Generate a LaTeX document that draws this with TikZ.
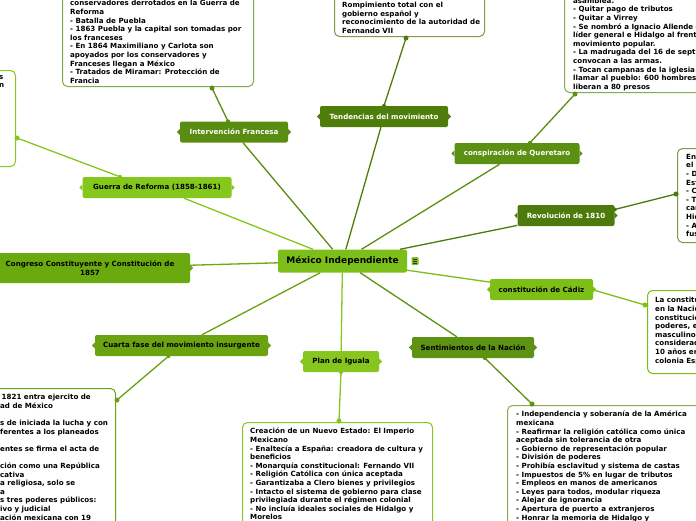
\documentclass[tikz,border=0pt]{standalone}
\usepackage{fontspec}
\setmainfont{DejaVu Sans}
\usetikzlibrary{calc}
\definecolor{cCenter}{HTML}{7DBF1A}
\definecolor{cTend}{HTML}{4F7D0C}
\definecolor{cInter}{HTML}{5B8C12}
\definecolor{cConsp}{HTML}{5C9012}
\definecolor{cRevo}{HTML}{4C7B0B}
\definecolor{cGuerra}{HTML}{84C81B}
\definecolor{cCongr}{HTML}{6BAA0F}
\definecolor{cCadiz}{HTML}{7DBF17}
\definecolor{cCuarta}{HTML}{6AA30F}
\definecolor{cPlan}{HTML}{86C61F}
\definecolor{cSent}{HTML}{5E9212}
\newcommand{\sidetabs}[2]{%
  \fill[#2] ($(#1.west)+(0,-3)$) -- ($(#1.west)+(-3,0)$) -- ($(#1.west)+(0,3)$) -- cycle;
  \fill[#2] ($(#1.east)+(0,-3)$) -- ($(#1.east)+(3,0)$) -- ($(#1.east)+(0,3)$) -- cycle;}
\begin{document}
\begin{tikzpicture}[x=1pt,y=-1pt,
  txt/.style={font=\fontsize{7.1}{8.6}\selectfont\bfseries},
  topic/.style={txt, rounded corners=2pt, inner sep=0pt, minimum height=21pt, align=center},
  notebox/.style={draw, fill=white, line width=1pt, rounded corners=5pt, inner sep=0pt},
  notetext/.style={txt, align=left, inner sep=0pt},
  link/.style={line width=1.3pt},
  enddot/.style={circle, inner sep=0pt, minimum size=5pt},
  startdot/.style={circle, inner sep=0pt, minimum size=4pt}]
\useasboundingbox (0,0) rectangle (696,520);
\fill[white] (0,0) rectangle (696,520);
\clip (0,0) rectangle (696,520);

% ---- topic nodes
\node[topic, fill=cCenter, minimum width=129pt, minimum height=23pt, font=\fontsize{9}{10}\selectfont\bfseries] (center) at (342.5,261) {México Independiente};
\node[topic, fill=cTend, text=white, minimum width=128pt] (tend) at (384,116.5) {Tendencias del movimiento};
\node[topic, fill=cInter, text=white, minimum width=108pt] (inter) at (234,132) {Intervención Francesa};
\node[topic, fill=cConsp, text=white, minimum width=125pt] (consp) at (517,153.5) {conspiración de Queretaro};
\node[topic, fill=cRevo, text=white, minimum width=97pt] (revo) at (566,215.5) {Revolución de 1810};
\node[topic, fill=cGuerra, minimum width=149pt] (guerra) at (157,187.5) {Guerra de Reforma (1858-1861)};
\node[topic, fill=cCongr, minimum width=200pt, minimum height=30pt] (congr) at (90,268) {Congreso Constituyente y Constitución de\\1857};
\node[topic, fill=cCadiz, minimum width=103pt] (cadiz) at (541.5,289.5) {constitución de Cádiz};
\node[topic, fill=cCuarta, minimum width=173pt] (cuarta) at (181.5,345.5) {Cuarta fase del movimiento insurgente};
\node[topic, fill=cPlan, minimum width=76pt] (plan) at (341,361.5) {Plan de Iguala};
\node[topic, fill=cSent, minimum width=122pt] (sent) at (473,347.5) {Sentimientos de la Nación};

\sidetabs{tend}{cTend}
\sidetabs{inter}{cInter}
\sidetabs{consp}{cConsp}
\sidetabs{revo}{cRevo}
\sidetabs{guerra}{cGuerra}
\sidetabs{congr}{cCongr}
\sidetabs{cadiz}{cCadiz}
\sidetabs{cuarta}{cCuarta}
\sidetabs{plan}{cPlan}
\sidetabs{sent}{cSent}

% icon next to the central node
\node[fill=cCenter, rounded corners=1pt, minimum width=7pt, minimum height=8pt, inner sep=0pt] (icon) at (415,261) {};
\draw[line width=0.6pt, black!80] ($(icon.center)+(-2,-2)$) -- ($(icon.center)+(2,-2)$)
  ($(icon.center)+(-2,0)$) -- ($(icon.center)+(2,0)$)
  ($(icon.center)+(-2,2)$) -- ($(icon.center)+(2,2)$);

% ---- connectors from the center
\draw[link, cTend] (center) -- (tend);
\draw[link, cInter] (center) -- (inter);
\draw[link, cConsp] (center) -- (consp);
\draw[link, cRevo] (center) -- (revo);
\draw[link, cGuerra] (center) -- (guerra);
\draw[link, cCongr] (center) -- (congr);
\draw[link, cCadiz] (center) -- (cadiz);
\draw[link, cCuarta] (center) -- (cuarta);
\draw[link, cPlan] (center) -- (plan);
\draw[link, cSent] (center) -- (sent);

% ---- note boxes
\node[notebox, draw=cInter!75!white, minimum width=191pt, minimum height=120pt, anchor=south west] (boxIF) at (62,87) {};
\node[notetext, anchor=south west] (tIF) at (70,83.5) {conservadores derrotados en la Guerra de\\Reforma\\- Batalla de Puebla\\- 1863 Puebla y la capital son tomadas por\\los franceses\\- En 1864 Maximiliano y Carlota son\\apoyados por los conservadores y\\Franceses llegan a México\\- Tratados de Miramar: Protección de\\Francia};

\node[notebox, draw=cGuerra, minimum width=40pt, minimum height=96pt, anchor=north east] (boxGR) at (16,70) {};
\node[notetext, anchor=north west] (tGR) at (-1,75) {s\\n};

\node[notebox, draw=cTend!75!white, minimum width=150pt, minimum height=60pt, anchor=south west] (boxT) at (334,37) {};
\node[notetext, anchor=south west] (tT) at (342,33.5) {Rompimiento total con el\\gobierno español y\\reconocimiento de la autoridad de\\Fernando VII};

\node[notebox, draw=cConsp!75!white, minimum width=200pt, minimum height=120pt, anchor=south west] (boxC) at (564,93) {};
\node[notetext, anchor=south west] (tC) at (573,91) {asamblea.\\- Quitar pago de tributos\\- Quitar a Virrey\\- Se nombró a Ignacio Allende como\\líder general e Hidalgo al frente del\\movimiento popular.\\- La madrugada del 16 de septiembre\\convocan a las armas.\\- Tocan campanas de la iglesia para\\llamar al pueblo: 600 hombres y\\liberan a 80 presos};

\node[notebox, draw=cRevo!75!white, minimum width=100pt, minimum height=94pt, anchor=north west] (boxR) at (677,148) {};
\node[notetext, anchor=north west] (tR) at (686,154) {En\\el p\\- D\\Est\\- C\\- T\\car\\Hid\\- A\\fus};

\node[notebox, draw=cCadiz, minimum width=100pt, minimum height=83pt, anchor=north west] (boxCa) at (647,290) {};
\node[notetext, anchor=north west] (tCa) at (655,297) {La constitución\\en la Nación\\constitucional\\poderes, el\\masculino,\\considerados\\10 años en\\colonia Española};

\node[notebox, draw=cCuarta, minimum width=160pt, minimum height=160pt, anchor=north east] (boxCu) at (116,388) {};
\node[notetext, anchor=north west] (tCu) at (0,394) {\hspace{1.5pt}1821 entra ejercito de\\ad de México\\[8.6pt]s de iniciada la lucha y con\\ferentes a los planeados\\[8.6pt]entes se firma el acta de\\[8.6pt]ción como una República\\cativa\\a religiosa, solo se\\a\\s tres poderes públicos:\\ivo y judicial\\ación mexicana con 19};

\node[notebox, draw=cPlan, minimum width=190pt, minimum height=120pt, anchor=north west] (boxP) at (242,422) {};
\node[notetext, anchor=north west] (tP) at (250,428) {Creación de un Nuevo Estado: El Imperio\\Mexicano\\- Enaltecía a España: creadora de cultura y\\beneficios\\- Monarquía constitucional: Fernando VII\\- Religión Católica con única aceptada\\- Garantizaba a Clero bienes y privilegios\\- Intacto el sistema de gobierno para clase\\privilegiada durante el régimen colonial\\- No incluía ideales sociales de Hidalgo y\\Morelos};

\node[notebox, draw=cSent!75!white, minimum width=220pt, minimum height=140pt, anchor=north west] (boxS) at (507,405) {};
\node[notetext, anchor=north west] (tS) at (516,411) {- Independencia y soberanía de la América\\mexicana\\- Reafirmar la religión católica como única\\aceptada sin tolerancia de otra\\- Gobierno de representación popular\\- División de poderes\\- Prohibía esclavitud y sistema de castas\\- Impuestos de 5\% en lugar de tributos\\- Empleos en manos de americanos\\- Leyes para todos, modular riqueza\\- Alejar de ignorancia\\- Apertura de puerto a extranjeros\\- Honrar la memoria de Hidalgo y};

% ---- connectors from topics to notes
\coordinate (iA) at ($(inter.north)+(-6,0)$);
\coordinate (iB) at ($(boxIF.south west)+(150,1)$);
\draw[link, cInter] (iA) -- (iB);
\node[startdot, fill=cInter] (iAd) at (iA) {};
\node[enddot, fill=cInter] (iBd) at (iB) {};

\coordinate (tA) at (tend.north);
\coordinate (tB) at ($(boxT.south west)+(72,1)$);
\draw[link, cTend] (tA) -- (tB);
\node[startdot, fill=cTend] (tAd) at (tA) {};
\node[enddot, fill=cTend] (tBd) at (tB) {};

\coordinate (cA) at ($(consp.north)+(13,0)$);
\coordinate (cB) at ($(boxC.south west)+(11,1)$);
\draw[link, cConsp] (cA) -- (cB);
\node[startdot, fill=cConsp] (cAd) at (cA) {};
\node[enddot, fill=cConsp] (cBd) at (cB) {};

\coordinate (rA) at ($(revo.east)+(0,-6)$);
\coordinate (rB) at ($(boxR.north west)+(-1,46)$);
\draw[link, cRevo] (rA) -- (rB);
\node[startdot, fill=cRevo] (rAd) at (rA) {};
\node[enddot, fill=cRevo] (rBd) at (rB) {};

\coordinate (gA) at ($(guerra.north)+(-37,0)$);
\coordinate (gB) at ($(boxGR.north east)+(1,68)$);
\draw[link, cGuerra] (gA) -- (gB);
\node[startdot, fill=cGuerra] (gAd) at (gA) {};
\node[enddot, fill=cGuerra] (gBd) at (gB) {};

\coordinate (kA) at ($(cadiz.east)+(2,1)$);
\coordinate (kB) at ($(boxCa.north west)+(-2,15)$);
\draw[link, cCadiz] (kA) -- (kB);
\node[enddot, fill=cCadiz] (kBd) at (kB) {};

\coordinate (sA) at ($(sent.south)+(12,0)$);
\coordinate (sB) at ($(boxS.north west)+(25,-1)$);
\draw[link, cSent] (sA) -- (sB);
\node[startdot, fill=cSent] (sAd) at (sA) {};
\node[enddot, fill=cSent] (sBd) at (sB) {};

\coordinate (pA) at (plan.south);
\coordinate (pB) at ($(boxP.north west)+(97,-1)$);
\draw[link, cPlan] (pA) -- (pB);
\node[startdot, fill=cPlan] (pAd) at (pA) {};
\node[enddot, fill=cPlan] (pBd) at (pB) {};

\coordinate (qA) at ($(cuarta.south)+(-13,0)$);
\coordinate (qB) at ($(boxCu.north east)+(1,12)$);
\draw[link, cCuarta] (qA) -- (qB);
\node[startdot, fill=cCuarta] (qAd) at (qA) {};
\node[enddot, fill=cCuarta] (qBd) at (qB) {};
\end{tikzpicture}
\end{document}
